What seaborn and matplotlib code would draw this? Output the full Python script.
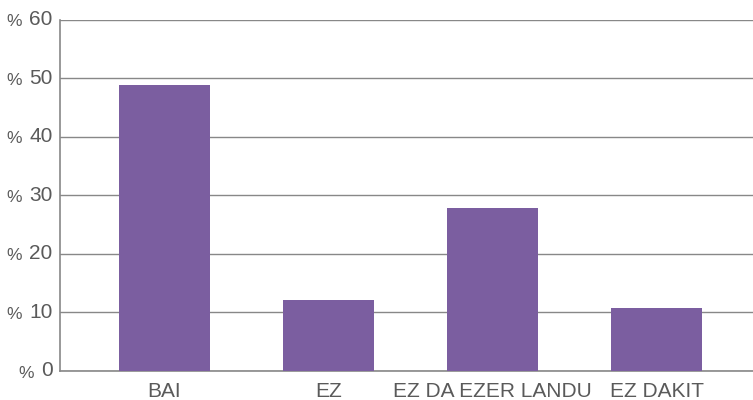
import matplotlib
matplotlib.use("Agg")
import matplotlib.pyplot as plt
import matplotlib.transforms as mtransforms
import seaborn as sns
import pandas as pd

categories = ["BAI", "EZ", "EZ DA EZER LANDU", "EZ DAKIT"]
values = [48.8, 12.2, 27.8, 10.7]
yticks = [0, 10, 20, 30, 40, 50, 60]

sns.set_theme(style="white")
plt.rcParams["font.family"] = ["Liberation Sans", "DejaVu Sans"]

bar_color = "#7B5EA0"
text_color = "#5a5a5a"
line_color = "#888888"

df = pd.DataFrame({"cat": categories, "val": values})

fig = plt.figure(figsize=(7.53, 4.0), dpi=100)
ax = fig.add_axes([0.0803, 0.0725, 0.9197, 0.8787])

sns.barplot(data=df, x="cat", y="val", color=bar_color, saturation=1,
            width=0.555, ax=ax, zorder=3, linewidth=0, edgecolor="none")

ax.set_xlim(-0.634, 3.588)
ax.set_ylim(0, 60)
ax.set_xlabel("")
ax.set_ylabel("")

ax.set_yticks(yticks)
ax.set_yticklabels([])
ax.tick_params(axis="y", length=0)
ax.tick_params(axis="x", length=0, pad=8, labelsize=15, labelcolor=text_color)

ax.yaxis.grid(True, color=line_color, linewidth=1.0, zorder=0)
ax.set_axisbelow(True)

for s in ["top", "right"]:
    ax.spines[s].set_visible(False)
for s in ["left", "bottom"]:
    ax.spines[s].set_color(line_color)
    ax.spines[s].set_linewidth(1.2)

trans = mtransforms.blended_transform_factory(ax.transAxes, ax.transData)
offset = mtransforms.ScaledTranslation(-8 / 100, 0, fig.dpi_scale_trans)
for t in yticks:
    num = ax.text(0, t, str(t), transform=trans + offset, ha="right",
                  va="center", fontsize=15, color=text_color)
    ax.annotate("%", xy=(0, 0), xycoords=num, xytext=(-7, 0),
                textcoords="offset pixels", ha="right", va="bottom",
                fontsize=12.5, color=text_color, annotation_clip=False)

fig.savefig("out.png", dpi=100)
